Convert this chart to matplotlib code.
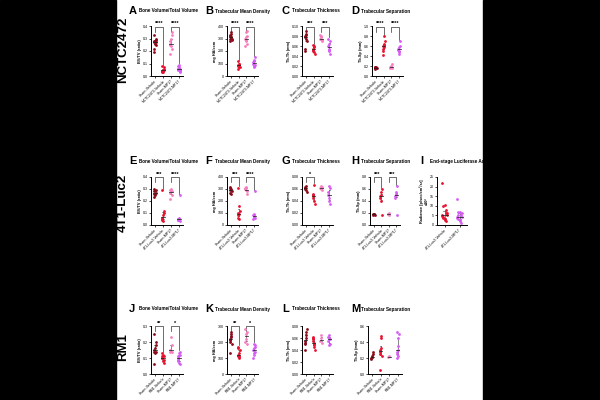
import matplotlib
matplotlib.use("Agg")
import matplotlib.pyplot as plt
import numpy as np

plt.rcParams["font.family"] = ["Liberation Sans", "DejaVu Sans"]

# cores dos grupos
cores = ["#8B0A1A", "#E8112D", "#F77FBE", "#D65CF5"]

grupos_nctc = ["Sham-Vehicle", "NCTC2472-Vehicle", "Sham-MP17", "NCTC2472-MP17"]
grupos_4t1 = ["Sham-Vehicle", "4T1-Luc2-Vehicle", "Sham-MP17", "4T1-Luc2-MP17"]
grupos_rm1 = ["Sham-Vehicle", "RM1-Vehicle", "Sham-MP17", "RM1-MP17"]
grupos_luc = ["4T1-Luc2-Vehicle", "4T1-Luc2-MP17"]

# NCTC2472
bvtv_nctc = [[0.28, 0.27, 0.26, 0.30, 0.25, 0.22, 0.19, 0.28, 0.27, 0.29, 0.33],
             [0.03, 0.04, 0.05, 0.06, 0.07, 0.08, 0.04, 0.03, 0.05],
             [0.25, 0.28, 0.30, 0.33, 0.22, 0.18, 0.26, 0.24, 0.35],
             [0.05, 0.06, 0.07, 0.05, 0.04, 0.08, 0.06, 0.09, 0.03, 0.06]]
dens_nctc = [[320, 300, 310, 350, 290, 280, 330, 315, 340, 300],
             [80, 60, 100, 90, 70, 120, 85, 75, 95],
             [300, 280, 350, 320, 260, 240, 290, 310, 360],
             [100, 80, 120, 150, 90, 110, 70, 130]]
tbth_nctc = [[0.078, 0.080, 0.090, 0.085, 0.070, 0.055, 0.050, 0.075, 0.082],
             [0.055, 0.050, 0.060, 0.058, 0.045, 0.062, 0.052, 0.048],
             [0.075, 0.078, 0.080, 0.070, 0.072, 0.082, 0.074],
             [0.060, 0.055, 0.050, 0.045, 0.070, 0.075, 0.065, 0.052]]
tbsp_nctc = [[0.17, 0.18, 0.16, 0.19, 0.17, 0.15, 0.18],
             [0.60, 0.55, 0.65, 0.80, 0.70, 0.50, 0.42, 0.62, 0.58],
             [0.17, 0.18, 0.20, 0.25, 0.16, 0.19, 0.18],
             [0.55, 0.50, 0.45, 0.70, 0.60, 0.52, 0.48, 0.58]]

# 4T1-Luc2
bvtv_4t1 = [[0.30, 0.28, 0.25, 0.27, 0.29, 0.23, 0.26],
            [0.05, 0.04, 0.08, 0.12, 0.10, 0.29, 0.06, 0.03],
            [0.27, 0.29, 0.30, 0.25, 0.28, 0.22],
            [0.05, 0.04, 0.06, 0.03, 0.25, 0.05, 0.04]]
dens_4t1 = [[310, 290, 300, 260, 280, 320, 270],
            [100, 80, 90, 160, 120, 310, 60, 50],
            [300, 290, 320, 280, 260, 310],
            [80, 70, 90, 60, 280, 50]]
tbth_4t1 = [[0.062, 0.060, 0.058, 0.065, 0.055, 0.063],
            [0.050, 0.045, 0.040, 0.067, 0.035, 0.048, 0.052],
            [0.062, 0.060, 0.065, 0.058, 0.063],
            [0.050, 0.045, 0.040, 0.035, 0.062, 0.055, 0.065]]
tbsp_4t1 = [[0.18, 0.17, 0.19, 0.18, 0.17],
            [0.45, 0.50, 0.55, 0.60, 0.17, 0.48, 0.40],
            [0.18, 0.19, 0.17, 0.20],
            [0.45, 0.50, 0.55, 0.65, 0.17, 0.48, 0.52]]
radiancia = [[22, 10, 10.5, 8, 6, 5, 4, 3, 2, 5, 4.5, 3.5, 2.5, 6],
             [13.5, 7, 7, 5, 4, 3.5, 3, 2, 1, 6, 4, 5, 2.5]]

# RM1
bvtv_rm1 = [[0.14, 0.15, 0.16, 0.18, 0.20, 0.25, 0.06, 0.13, 0.14],
            [0.10, 0.11, 0.12, 0.09, 0.07, 0.13, 0.10, 0.08, 0.11],
            [0.15, 0.14, 0.23, 0.18, 0.14],
            [0.10, 0.08, 0.07, 0.12, 0.14, 0.09, 0.11, 0.13, 0.06]]
dens_rm1 = [[200, 220, 250, 240, 190, 130, 210, 260, 230],
            [110, 120, 100, 130, 150, 170, 160, 105, 115],
            [200, 220, 250, 260, 190, 280],
            [150, 160, 120, 170, 180, 100, 130, 190, 140]]
tbth_rm1 = [[0.055, 0.050, 0.060, 0.070, 0.075, 0.040, 0.052, 0.065],
            [0.055, 0.060, 0.050, 0.045, 0.040, 0.062, 0.058, 0.052, 0.048],
            [0.055, 0.060, 0.065, 0.052],
            [0.055, 0.060, 0.065, 0.050, 0.058, 0.062, 0.048]]
tbsp_rm1 = [[0.20, 0.22, 0.21, 0.25, 0.28, 0.19],
            [0.25, 0.30, 0.45, 0.47, 0.22, 0.28, 0.05, 0.32],
            [0.21, 0.22],
            [0.20, 0.25, 0.30, 0.45, 0.50, 0.53, 0.28, 0.22, 0.35]]

W, H = 600, 400
fig = plt.figure(figsize=(6, 4), dpi=100)
fig.patch.set_facecolor("white")


def eixo(x0, y0, x1, y1):
    return fig.add_axes([x0 / W, 1 - y1 / H, (x1 - x0) / W, (y1 - y0) / H])


def painel(ax, dados, rotulos, cores_g, ylim, yticks, yfmt, ylabel, sig):
    for i, vals in enumerate(dados):
        vals = np.array(vals)
        n = len(vals)
        desl = (np.arange(n) % 5 - 2) * 0.07
        ax.scatter(i + desl, vals, s=4, color=cores_g[i], marker="o",
                   linewidths=0, zorder=3)
        med = np.median(vals)
        q1, q3 = np.percentile(vals, [25, 75])
        ax.plot([i, i], [q1, q3], color="#444444", lw=0.45, zorder=2)
        ax.plot([i - 0.08, i + 0.08], [q1, q1], color="#444444", lw=0.45, zorder=2)
        ax.plot([i - 0.08, i + 0.08], [q3, q3], color="#444444", lw=0.45, zorder=2)
        ax.plot([i - 0.2, i + 0.2], [med, med], color="#222222", lw=0.55, zorder=4)
    ax.set_xlim(-0.5, len(dados) - 0.5)
    ax.set_ylim(*ylim)
    ax.set_yticks(yticks)
    ax.set_yticklabels([yfmt.format(v) for v in yticks])
    ax.set_xticks(range(len(dados)))
    ax.set_xticklabels(rotulos, rotation=45, ha="right", rotation_mode="anchor")
    ax.tick_params(labelsize=2.6, length=1.2, width=0.5, pad=0.8)
    for s in ["top", "right"]:
        ax.spines[s].set_visible(False)
    for s in ["left", "bottom"]:
        ax.spines[s].set_linewidth(0.7)
    ax.set_ylabel(ylabel, fontsize=2.8, fontweight="bold", labelpad=1)
    topo = ylim[1]
    for (a, b, txt) in sig:
        y = topo * 0.99
        ax.plot([a, a, b, b], [y - topo * 0.1, y, y, max(dados[b]) + topo * 0.03],
                color="#333333", lw=0.5, clip_on=False)
        ax.text((a + b) / 2, y + topo * 0.01, txt, ha="center", va="bottom",
                fontsize=4, fontweight="bold")


def titulo(xl, y, letra, texto):
    fig.text(xl / W, 1 - y / H, letra, fontsize=8, fontweight="bold",
             ha="left", va="center")
    fig.text((xl + 10) / W, 1 - y / H, texto, fontsize=3.3, fontweight="bold",
             ha="left", va="center")


cols = [(151, 183), (227, 258), (302, 333), (372, 403)]

# linha 1
t, b = 26, 76
a1 = [eixo(cols[0][0], t, cols[0][1], b), eixo(cols[1][0], t, cols[1][1], b),
      eixo(cols[2][0], t, cols[2][1], b), eixo(cols[3][0], t, cols[3][1], b)]
painel(a1[0], bvtv_nctc, grupos_nctc, cores, (0, 0.4), [0, 0.1, 0.2, 0.3, 0.4],
       "{:.1f}", "BV/TV (ratio)", [(0, 1, "****"), (2, 3, "****")])
painel(a1[1], dens_nctc, grupos_nctc, cores, (0, 400), [0, 100, 200, 300, 400],
       "{:.0f}", "mg HA/ccm", [(0, 1, "****"), (2, 3, "****")])
painel(a1[2], tbth_nctc, grupos_nctc, cores, (0, 0.1), [0, 0.02, 0.04, 0.06, 0.08, 0.10],
       "{:.2f}", "Tb.Th (mm)", [(0, 1, "***"), (2, 3, "***")])
painel(a1[3], tbsp_nctc, grupos_nctc, cores, (0, 1.0), [0, 0.2, 0.4, 0.6, 0.8, 1.0],
       "{:.1f}", "Tb.Sp (mm)", [(0, 1, "****"), (2, 3, "****")])
titulo(129, 11, "A", "Bone Volume/Total Volume")
titulo(205, 11, "B", "Trabecular Mean Density")
titulo(282, 11, "C", "Trabecular Thickness")
titulo(351, 11, "D", "Trabecular Separation")

# linha 2
t, b = 177, 225
a2 = [eixo(cols[0][0], t, cols[0][1], b), eixo(cols[1][0], t, cols[1][1], b),
      eixo(cols[2][0], t, cols[2][1], b), eixo(370, t, 400, b), eixo(437, t, 467, b)]
painel(a2[0], bvtv_4t1, grupos_4t1, cores, (0, 0.4), [0, 0.1, 0.2, 0.3, 0.4],
       "{:.1f}", "BV/TV (ratio)", [(0, 1, "***"), (2, 3, "****")])
painel(a2[1], dens_4t1, grupos_4t1, cores, (0, 400), [0, 100, 200, 300, 400],
       "{:.0f}", "mg HA/ccm", [(0, 1, "***"), (2, 3, "****")])
painel(a2[2], tbth_4t1, grupos_4t1, cores, (0, 0.08), [0, 0.02, 0.04, 0.06, 0.08],
       "{:.2f}", "Tb.Th (mm)", [(0, 1, "*")])
painel(a2[3], tbsp_4t1, grupos_4t1, cores, (0, 0.8), [0, 0.2, 0.4, 0.6, 0.8],
       "{:.1f}", "Tb.Sp (mm)", [(0, 1, "***"), (2, 3, "***")])
painel(a2[4], radiancia, grupos_luc, [cores[1], cores[3]], (0, 25), [0, 5, 10, 15, 20, 25],
       "{:.0f}", "Radiance [p/sec/cm²/sr]\nx10⁶", [])
titulo(129, 161, "E", "Bone Volume/Total Volume")
titulo(205, 161, "F", "Trabecular Mean Density")
titulo(282, 161, "G", "Trabecular Thickness")
titulo(351, 161, "H", "Trabecular Separation")
titulo(420, 161, "I", "End-stage Luciferase Activity")

# linha 3
t, b = 326, 374
a3 = [eixo(cols[0][0], t, cols[0][1], b), eixo(cols[1][0], t, cols[1][1], b),
      eixo(cols[2][0], t, cols[2][1], b), eixo(368, t, 402, b)]
painel(a3[0], bvtv_rm1, grupos_rm1, cores, (0, 0.3), [0, 0.1, 0.2, 0.3],
       "{:.1f}", "BV/TV (ratio)", [(0, 1, "**"), (2, 3, "*")])
painel(a3[1], dens_rm1, grupos_rm1, cores, (0, 300), [0, 100, 200, 300],
       "{:.0f}", "mg HA/ccm", [(0, 1, "**"), (2, 3, "*")])
painel(a3[2], tbth_rm1, grupos_rm1, cores, (0, 0.08), [0, 0.02, 0.04, 0.06, 0.08],
       "{:.2f}", "Tb.Th (mm)", [])
painel(a3[3], tbsp_rm1, grupos_rm1, cores, (0, 0.6), [0, 0.2, 0.4, 0.6],
       "{:.1f}", "Tb.Sp (mm)", [])
titulo(129, 309, "J", "Bone Volume/Total Volume")
titulo(205, 309, "K", "Trabecular Mean Density")
titulo(282, 309, "L", "Trabecular Thickness")
titulo(351, 309, "M", "Trabecular Separation")

# nomes das linhas
for nome, yc in [("NCTC2472", 50), ("4T1-Luc2", 203), ("RM1", 347)]:
    fig.text(123 / W, 1 - yc / H, nome, rotation=90, fontsize=9.5, fontweight="bold",
             ha="center", va="center")

# faixas pretas laterais
fig.patches.append(plt.Rectangle((0, 0), 116 / W, 1, transform=fig.transFigure,
                                 color="black", zorder=100))
fig.patches.append(plt.Rectangle((483 / W, 0), 117 / W, 1, transform=fig.transFigure,
                                 color="black", zorder=100))

fig.savefig("out.png", dpi=100)
